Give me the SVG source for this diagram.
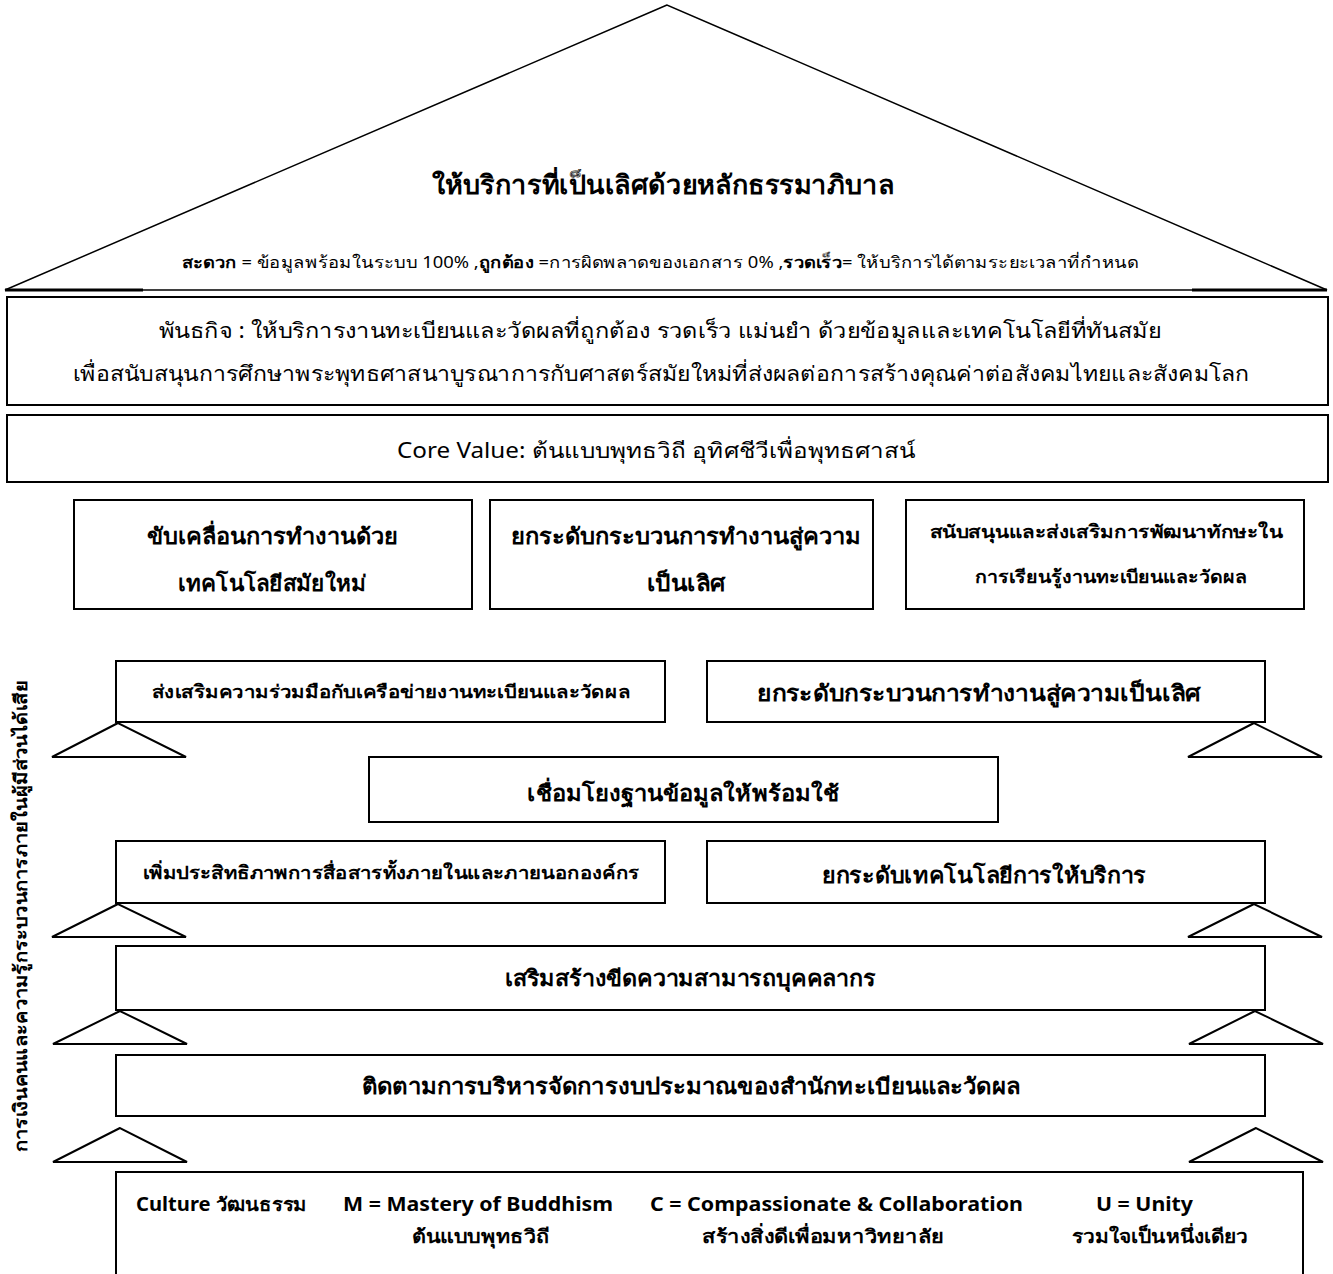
<svg xmlns="http://www.w3.org/2000/svg" width="1333" height="1274" viewBox="0 0 1333 1274">
<style>
text{font-family:"Noto Sans","Liberation Sans",sans-serif;fill:#000;text-anchor:middle}
.b{font-weight:bold}
.l{text-anchor:start}
.box{fill:#fff;stroke:#000;stroke-width:2}
.tri{fill:#fff;stroke:#000;stroke-width:2}
</style>
<rect width="1333" height="1274" fill="#fff"/>
<g id="roof">
<polygon points="667,5 5,290 1327,290" fill="#fff" stroke="#000" stroke-width="1.5"/>
<line x1="5" y1="290" x2="143" y2="290" stroke="#000" stroke-width="3"/>
<line x1="1192" y1="290" x2="1327" y2="290" stroke="#000" stroke-width="3"/>
<text class="b" x="663" y="194" font-size="26" textLength="463" lengthAdjust="spacingAndGlyphs">ให้บริการที่เป็นเลิศด้วยหลักธรรมาภิบาล</text>
<text x="660" y="268" font-size="16" textLength="957" lengthAdjust="spacingAndGlyphs"><tspan class="b">สะดวก</tspan> = ข้อมูลพร้อมในระบบ 100% ,<tspan class="b">ถูกต้อง</tspan> =การผิดพลาดของเอกสาร 0% ,<tspan class="b">รวดเร็ว</tspan>= ให้บริการได้ตามระยะเวลาที่กำหนด</text>
</g>
<g id="mission">
<rect class="box" x="7" y="297" width="1321" height="108" stroke-width="2.5"/>
<text x="660" y="338" font-size="21" textLength="1003" lengthAdjust="spacingAndGlyphs">พันธกิจ :  ให้บริการงานทะเบียนและวัดผลที่ถูกต้อง รวดเร็ว แม่นยำ ด้วยข้อมูลและเทคโนโลยีที่ทันสมัย</text>
<text x="661" y="381" font-size="21" textLength="1177" lengthAdjust="spacingAndGlyphs">เพื่อสนับสนุนการศึกษาพระพุทธศาสนาบูรณาการกับศาสตร์สมัยใหม่ที่ส่งผลต่อการสร้างคุณค่าต่อสังคมไทยและสังคมโลก</text>
</g>
<g id="core-value">
<rect class="box" x="7" y="415" width="1321" height="67" stroke-width="2.5"/>
<text x="656" y="458" font-size="21" textLength="518" lengthAdjust="spacingAndGlyphs">Core Value:  ต้นแบบพุทธวิถี อุทิศชีวีเพื่อพุทธศาสน์</text>
</g>
<g id="strategy-1">
<rect class="box" x="74" y="500" width="398" height="109"/>
<text class="b" x="272" y="544" font-size="22" textLength="251" lengthAdjust="spacingAndGlyphs">ขับเคลื่อนการทำงานด้วย</text>
<text class="b" x="272" y="591" font-size="22" textLength="189" lengthAdjust="spacingAndGlyphs">เทคโนโลยีสมัยใหม่</text>
</g>
<g id="strategy-2">
<rect class="box" x="490" y="500" width="383" height="109"/>
<text class="b" x="686" y="544" font-size="22" textLength="350" lengthAdjust="spacingAndGlyphs">ยกระดับกระบวนการทำงานสู่ความ</text>
<text class="b" x="686" y="591" font-size="22" textLength="79" lengthAdjust="spacingAndGlyphs">เป็นเลิศ</text>
</g>
<g id="strategy-3">
<rect class="box" x="906" y="500" width="398" height="109"/>
<text class="b" x="1106" y="538" font-size="18" textLength="353" lengthAdjust="spacingAndGlyphs">สนับสนุนและส่งเสริมการพัฒนาทักษะใน</text>
<text class="b" x="1111" y="583" font-size="18" textLength="272" lengthAdjust="spacingAndGlyphs">การเรียนรู้งานทะเบียนและวัดผล</text>
</g>
<g id="side-label">
<text class="b" transform="translate(27,916) rotate(-90)" font-size="18" textLength="472" lengthAdjust="spacingAndGlyphs">การเงินคนและความรู้กระบวนการภายในผู้มีส่วนได้เสีย</text>
</g>
<g id="connectors">
<polygon class="tri" points="118,723 52,757 186,757"/>
<polygon class="tri" points="1254,723 1188,757 1322,757"/>
<polygon class="tri" points="118,904 52,937 186,937"/>
<polygon class="tri" points="1254,904 1188,937 1322,937"/>
<polygon class="tri" points="120,1011 53,1044 187,1044"/>
<polygon class="tri" points="1255,1011 1189,1044 1323,1044"/>
<polygon class="tri" points="120,1128 53,1162 187,1162"/>
<polygon class="tri" points="1256,1128 1189,1162 1323,1162"/>
</g>
<g id="network">
<rect class="box" x="116" y="661" width="549" height="61"/>
<text class="b" x="391" y="698" font-size="18" textLength="478" lengthAdjust="spacingAndGlyphs">ส่งเสริมความร่วมมือกับเครือข่ายงานทะเบียนและวัดผล</text>
</g>
<g id="process">
<rect class="box" x="707" y="661" width="558" height="61"/>
<text class="b" x="979" y="701" font-size="22" textLength="444" lengthAdjust="spacingAndGlyphs">ยกระดับกระบวนการทำงานสู่ความเป็นเลิศ</text>
</g>
<g id="database">
<rect class="box" x="369" y="757" width="629" height="65"/>
<text class="b" x="683" y="801" font-size="22" textLength="312" lengthAdjust="spacingAndGlyphs">เชื่อมโยงฐานข้อมูลให้พร้อมใช้</text>
</g>
<g id="communication">
<rect class="box" x="116" y="841" width="549" height="62"/>
<text class="b" x="391" y="879" font-size="18" textLength="497" lengthAdjust="spacingAndGlyphs">เพิ่มประสิทธิภาพการสื่อสารทั้งภายในและภายนอกองค์กร</text>
</g>
<g id="technology">
<rect class="box" x="707" y="841" width="558" height="62"/>
<text class="b" x="984" y="883" font-size="22" textLength="324" lengthAdjust="spacingAndGlyphs">ยกระดับเทคโนโลยีการให้บริการ</text>
</g>
<g id="personnel">
<rect class="box" x="116" y="946" width="1149" height="64"/>
<text class="b" x="690" y="986" font-size="22" textLength="371" lengthAdjust="spacingAndGlyphs">เสริมสร้างขีดความสามารถบุคคลากร</text>
</g>
<g id="budget">
<rect class="box" x="116" y="1055" width="1149" height="61"/>
<text class="b" x="691" y="1094" font-size="22" textLength="658" lengthAdjust="spacingAndGlyphs">ติดตามการบริหารจัดการงบประมาณของสำนักทะเบียนและวัดผล</text>
</g>
<g id="culture">
<rect class="box" x="116" y="1172" width="1187" height="110"/>
<text class="b l" x="136" y="1211" font-size="19" textLength="171" lengthAdjust="spacingAndGlyphs">Culture วัฒนธรรม</text>
<text class="b l" x="343" y="1211" font-size="19" textLength="270" lengthAdjust="spacingAndGlyphs">M =  Mastery of Buddhism</text>
<text class="b l" x="650" y="1211" font-size="19" textLength="373" lengthAdjust="spacingAndGlyphs">C =  Compassionate &amp; Collaboration</text>
<text class="b l" x="1096" y="1211" font-size="19" textLength="97" lengthAdjust="spacingAndGlyphs">U = Unity</text>
<text class="b" x="481" y="1243" font-size="19" textLength="138" lengthAdjust="spacingAndGlyphs">ต้นแบบพุทธวิถี</text>
<text class="b" x="823" y="1243" font-size="19" textLength="242" lengthAdjust="spacingAndGlyphs">สร้างสิ่งดีเพื่อมหาวิทยาลัย</text>
<text class="b" x="1160" y="1243" font-size="19" textLength="176" lengthAdjust="spacingAndGlyphs">รวมใจเป็นหนึ่งเดียว</text>
</g>
</svg>
